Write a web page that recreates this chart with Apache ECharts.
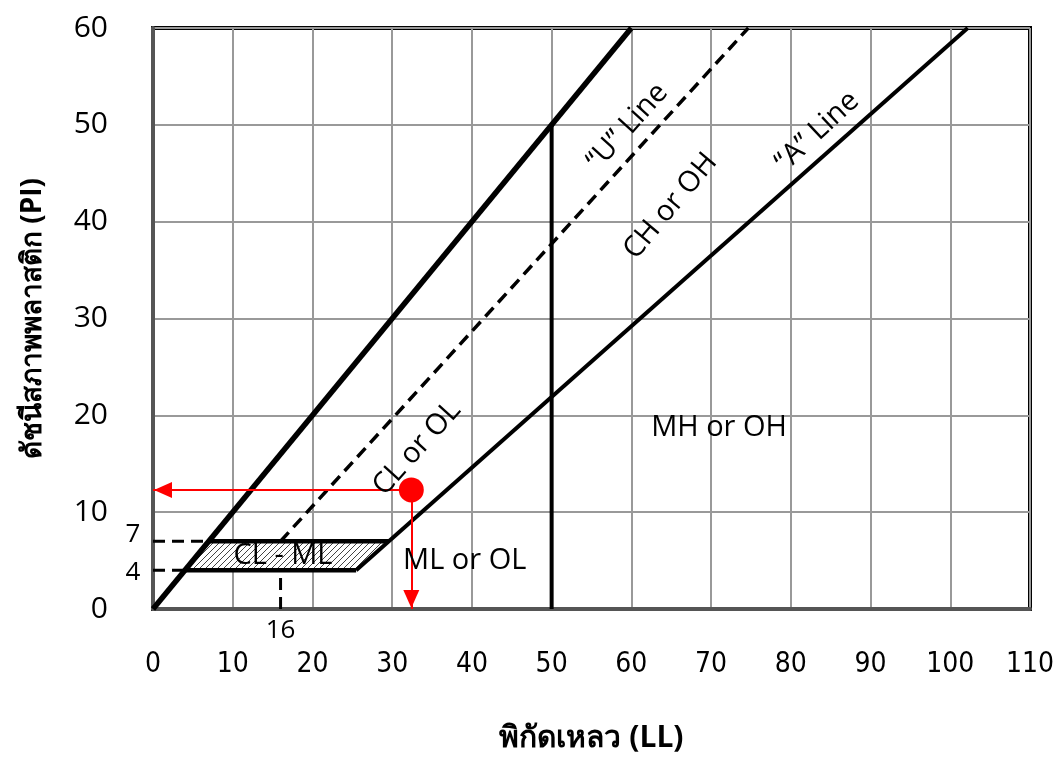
<!DOCTYPE html>
<html><head><meta charset="utf-8">
<script src="https://cdn.jsdelivr.net/npm/echarts@6/dist/echarts.min.js"></script>
<style>html,body{margin:0;padding:0;background:#fff}#c{width:1061px;height:758px}</style>
</head><body><div id="c"></div>
<script>
// ---- data ----
const xTitle = 'พิกัดเหลว (LL)';
const yTitle = 'ดัชนีสภาพพลาสติก (PI)';
const equalLine = [[0, 0], [60, 60]];          // PI = LL upper limit
const uLine = [[16, 7], [74.67, 60]];          // U line PI = 0.9(LL-8)
const aLine = [[25.48, 4], [102.19, 60]];      // A line PI = 0.73(LL-20)
const ll50Line = [[50, 0], [50, 50]];
const pi7Line = [[7, 7], [29.59, 7]];
const pi4Line = [[4, 4], [25.48, 4]];
const dash7 = [[0, 7], [7, 7]];
const dash4 = [[0, 4], [4, 4]];
const dash16 = [[16, 0], [16, 4]];
const hatchZone = [[4, 4], [25.48, 4], [29.59, 7], [7, 7]];
const sample = [32.4, 12.3];
const zoneLabels = [
  {text: '“U” Line', at: [59.5, 49.8], rotate: 48},
  {text: 'CH or OH', at: [64.9, 41.6], rotate: 50},
  {text: '“A” Line', at: [83.3, 49.3], rotate: 43},
  {text: 'CL or OL', at: [33.1, 16.6], rotate: 48},
  {text: 'MH or OH', at: [71.0, 18.7], rotate: 0},
  {text: 'ML or OL', at: [39.1, 5.0], rotate: 0},
  {text: 'CL - ML', at: [16.3, 5.5], rotate: 0}
];
const refLabels = [
  {text: '7', at: [0, 7], off: [-20, -7]},
  {text: '4', at: [0, 4], off: [-20, 2]},
  {text: '16', at: [16, 0], off: [0, 22]}
];

// ---- pattern ----
const pc = document.createElement('canvas');
pc.width = 6; pc.height = 6;
const g = pc.getContext('2d');
g.fillStyle = '#fff'; g.fillRect(0, 0, 6, 6);
g.strokeStyle = '#444'; g.lineWidth = 1;
g.beginPath(); g.moveTo(-1, 7); g.lineTo(7, -1); g.stroke();
g.beginPath(); g.moveTo(-4, 4); g.lineTo(4, -4); g.stroke();
g.beginPath(); g.moveTo(2, 10); g.lineTo(10, 2); g.stroke();

const txtFont = "'Open Sans', 'Noto Sans', sans-serif";
const narrowFont = "'Liberation Sans Narrow', 'DejaVu Sans Condensed', 'Roboto Condensed', 'Open Sans', sans-serif";
function seg(data, width, dashed, z) {
  return {type: 'line', data: data, symbol: 'none', silent: true, z: z || 3,
    lineStyle: {color: '#000', width: width, type: dashed ? [12, 7] : 'solid', cap: 'butt'}};
}

const chart = echarts.init(document.getElementById('c'));
chart.setOption({
  animation: false,
  grid: {left: 153, right: 31, top: 28, bottom: 146, show: true, borderColor: '#000', borderWidth: 4, backgroundColor: 'transparent'},
  xAxis: {type: 'value', min: 0, max: 110, interval: 10,
    name: xTitle, nameLocation: 'middle', nameGap: 114,
    nameTextStyle: {fontSize: 30, fontWeight: 'bold', color: '#000', fontFamily: txtFont},
    axisLine: {show: true, onZero: false, lineStyle: {color: '#555', width: 4}},
    axisTick: {show: false},
    axisLabel: {fontSize: 28, color: '#000', margin: 42, fontFamily: narrowFont},
    splitLine: {show: true, lineStyle: {color: '#999', width: 2}}},
  yAxis: {type: 'value', min: 0, max: 60, interval: 10,
    name: yTitle, nameLocation: 'middle', nameGap: 106,
    nameTextStyle: {fontSize: 28, fontWeight: 'bold', color: '#000', fontFamily: txtFont},
    axisLine: {show: true, onZero: false, lineStyle: {color: '#555', width: 4}},
    axisTick: {show: false},
    axisLabel: {fontSize: 30, color: '#000', margin: 45, fontFamily: txtFont},
    splitLine: {show: true, lineStyle: {color: '#999', width: 2}}},
  series: [
    {type: 'custom', data: [hatchZone[0]], z: 2, silent: true,
      renderItem: function (params, api) {
        const pts = hatchZone.map(p => api.coord(p));
        return {type: 'polygon', shape: {points: pts},
          style: {fill: {type: 'pattern', image: pc, repeat: 'repeat'}, stroke: null}};
      }},
    seg(equalLine, 5.5),
    seg(uLine, 3.5, true),
    seg(aLine, 4),
    seg(ll50Line, 4),
    seg(pi7Line, 4.5),
    seg(pi4Line, 4.5),
    seg(dash7, 3, true),
    seg(dash4, 3, true),
    seg(dash16, 3, true),
    {type: 'scatter', data: zoneLabels.map(l => ({value: l.at,
        label: {show: true, formatter: l.text, rotate: l.rotate, position: 'inside',
          fontSize: 29, color: '#000', fontFamily: txtFont}})),
      itemStyle: {opacity: 1},
      symbolSize: 0, silent: true, z: 6},
    {type: 'scatter', data: refLabels.map(l => ({value: l.at,
        label: {show: true, formatter: l.text, position: 'inside', offset: l.off,
          fontSize: 26, color: '#000', fontFamily: txtFont}})),
      itemStyle: {opacity: 1},
      symbolSize: 0, silent: true, z: 6},
    {type: 'scatter', data: [sample], symbolSize: 25, z: 8, silent: true,
      itemStyle: {color: '#ff0000', opacity: 1},
      markLine: {silent: true, symbol: ['none', 'triangle'], symbolSize: [16, 18],
        symbolOffset: [0, [0, 10]],
        label: {show: false}, precision: 4,
        lineStyle: {color: '#ff0000', width: 2, type: 'solid', opacity: 1},
        data: [
          [{coord: sample}, {coord: [0, sample[1]]}],
          [{coord: sample}, {coord: [sample[0], 0]}]
        ]}}
  ]
});
</script></body></html>
